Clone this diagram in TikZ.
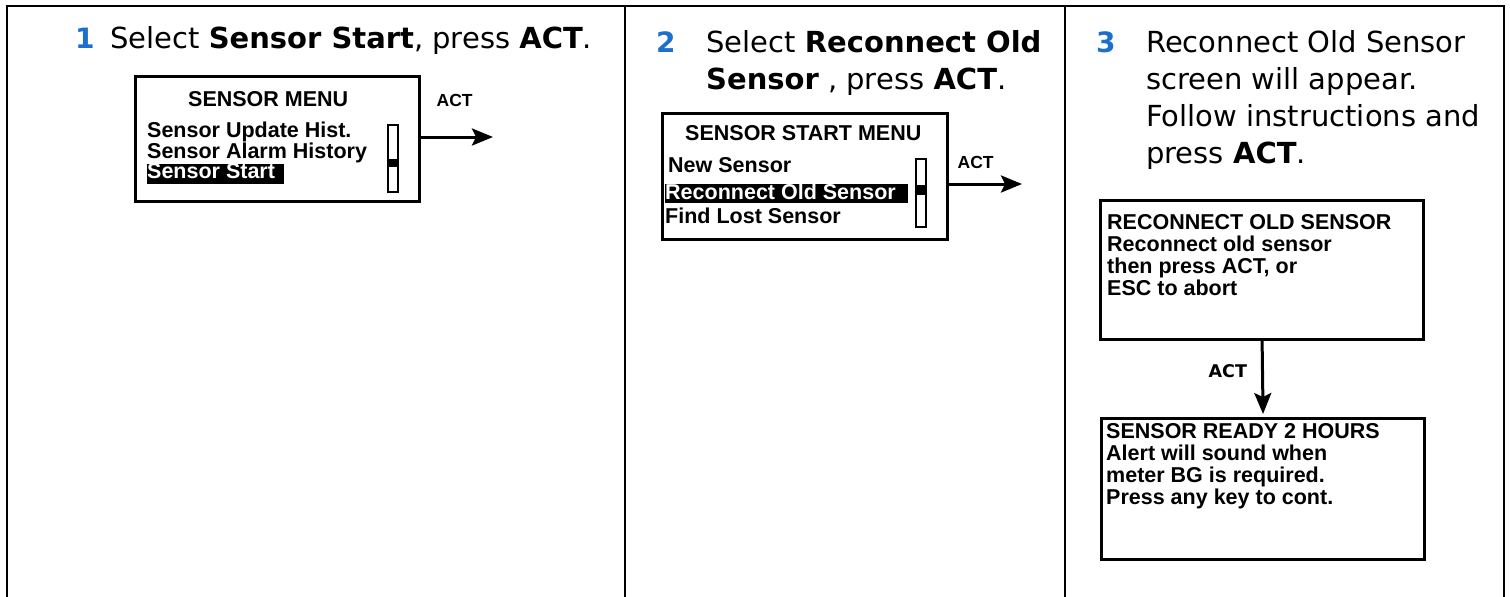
\documentclass[tikz,border=0pt]{standalone}
\usepackage{fontspec}
\setmainfont{DejaVu Sans}
\newfontfamily\lcdfont{Liberation Sans}
\usetikzlibrary{arrows.meta,positioning}
\definecolor{stepblue}{RGB}{28,111,204}

\begin{document}
\begin{tikzpicture}[x=1pt,y=-1pt,>={Stealth[length=21pt,width=17pt,inset=4pt]},
  every node/.style={inner sep=0pt},
  rule/.style={line width=2.8pt},
  num/.style={anchor=base west,text=stepblue,font=\bfseries\fontsize{28}{37}\selectfont},
  head/.style={anchor=base west,align=left,font=\fontsize{29}{37}\selectfont},
  screen/.style={draw,line width=3.2pt,anchor=north west},
  lcd/.style={anchor=base west,align=left,font=\lcdfont\bfseries\fontsize{21.5}{21.7}\selectfont},
  sel/.style={lcd,fill=black,text=white,text height=14pt,text depth=6pt},
  bar/.style={draw,line width=2pt,minimum width=10pt},
  thumb/.style={fill=black,minimum width=10pt,minimum height=8pt},
  act/.style={font=\lcdfont\bfseries\fontsize{17.5}{17.5}\selectfont},
  imp/.style={->,line width=3pt}]
  \useasboundingbox (0,0) rectangle (1510,597);
  % table frame
  \draw[rule] (7,597) -- (7,6) -- (1504,6) -- (1504,597);
  \draw[rule] (625,6) -- (625,597);
  \draw[rule] (1065,6) -- (1065,597);
  % step 1
  \node[num] (n1) at (75,48) {1};
  \node[head,base right=15pt of n1] (h1) {Select \textbf{Sensor Start}, press \textbf{ACT}.};
  \node[screen,minimum width=284pt,minimum height=125pt] (menu) at (134,75) {};
  \node[lcd] (menu-t) at (188,106) {SENSOR MENU};
  \node[lcd] (menu-a) at (147,137) {Sensor Update Hist.};
  \node[lcd] (menu-b) at (147,158) {Sensor Alarm History};
  \node[sel] (menu-c) at (147,178) {Sensor Start\hspace{9pt}};
  \node[bar,minimum height=67pt] (bar1) at (393,158.5) {};
  \node[thumb] (th1) at (393,163) {};
  \coordinate (go1) at (493,137);
  \draw[imp] (menu.east |- go1) -- node[act,pos=0,anchor=base west,xshift=14pt,yshift=31pt] (act1) {ACT} (go1);
  % step 2 (base of a multi-line node is its last line)
  \node[num] (n2) at (656,52) {2};
  \node[head] (h2) at (706,89) {Select \textbf{Reconnect Old}\\\textbf{Sensor} , press \textbf{ACT}.};
  \node[screen,minimum width=285pt,minimum height=126pt] (start) at (661,112) {};
  \node[lcd] (start-t) at (685,140) {SENSOR START MENU};
  \node[lcd] (start-a) at (668,172) {New Sensor};
  \node[sel,text height=15pt,text depth=4pt] (start-b) at (665,199) {Reconnect Old Sensor\hspace{12pt}};
  \node[lcd] (start-c) at (665,223) {Find Lost Sensor};
  \node[bar,minimum height=68pt] (bar2) at (921,193) {};
  \node[thumb,minimum height=10pt] (th2) at (921,190) {};
  \coordinate (go2) at (1022,184);
  \draw[imp] (start.east |- go2) -- node[act,pos=0,anchor=base west,xshift=7pt,yshift=16pt] (act2) {ACT} (go2);
  % step 3
  \node[num] (n3) at (1096,52) {3};
  \node[head] (h3) at (1146,163) {Reconnect Old Sensor\\screen will appear.\\Follow instructions and\\press \textbf{ACT}.};
  \node[screen,minimum width=323pt,minimum height=139pt] (recon) at (1099,199) {};
  \node[lcd] (recon-t) at (1107,295) {RECONNECT OLD SENSOR\\Reconnect old sensor\\then press ACT, or\\ESC to abort};
  \node[screen,minimum width=323pt,minimum height=141pt] (ready) at (1100,417) {};
  \node[lcd,font=\lcdfont\bfseries\fontsize{21.5}{22}\selectfont] (ready-t) at (1106,504) {SENSOR READY 2 HOURS\\Alert will sound when\\meter BG is required.\\Press any key to cont.};
  \draw[imp,shorten >=3pt] (recon.south) -- node[act,font=\bfseries\fontsize{17.5}{17.5}\selectfont,left=14pt,pos=.4] (act3) {ACT} (ready.north);
\end{tikzpicture}
\end{document}
